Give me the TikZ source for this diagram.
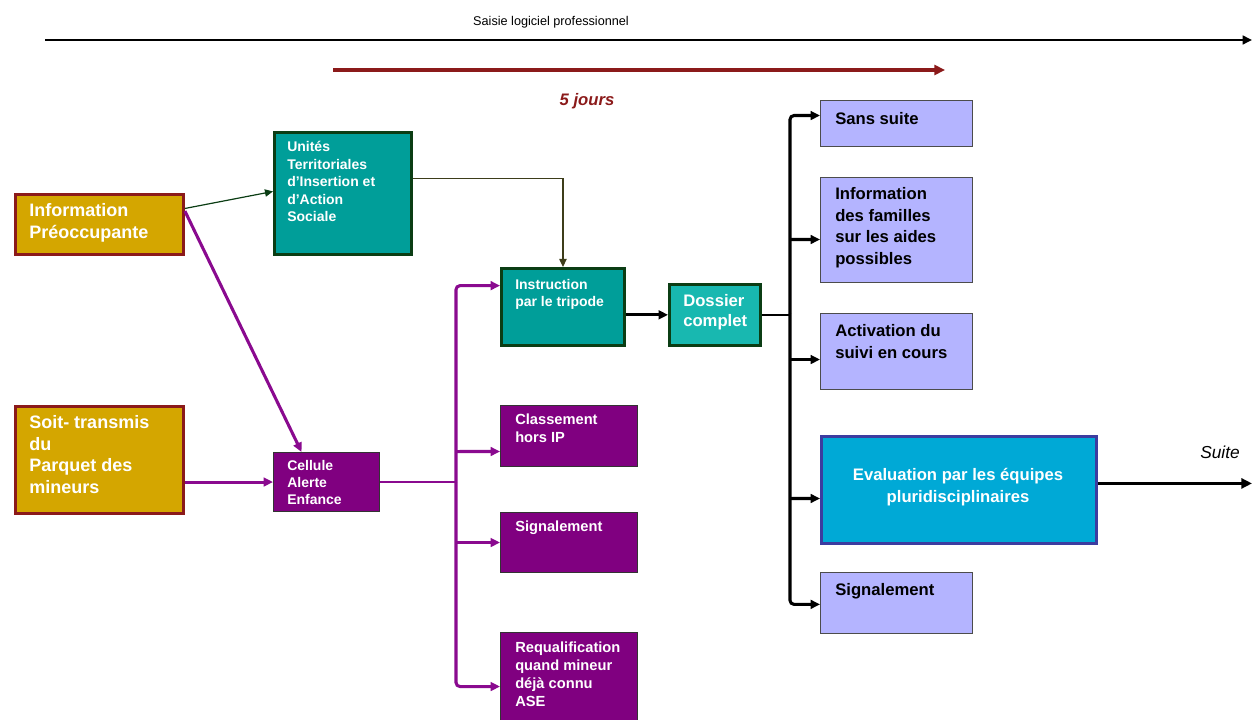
\documentclass[tikz,border=0pt]{standalone}
\usepackage{fontspec}
\setmainfont{Liberation Sans}
\usetikzlibrary{arrows.meta}
\definecolor{gold}{HTML}{D4A600}
\definecolor{dred}{HTML}{8B1A1A}
\definecolor{teal1}{HTML}{009E99}
\definecolor{teal2}{HTML}{18B8B0}
\definecolor{dgreen}{HTML}{0B3D14}
\definecolor{purp}{HTML}{800080}
\definecolor{purpl}{HTML}{8A0A8F}
\definecolor{lav}{HTML}{B4B4FF}
\definecolor{evblue}{HTML}{00A9D6}
\definecolor{evborder}{HTML}{3C3CA0}
\definecolor{olive}{HTML}{3D3D1A}
\tikzset{
  box/.style={rectangle, anchor=north west, inner sep=0pt},
  goldbox/.style={box, fill=gold, draw=dred, line width=2.2pt},
  tealbox/.style={box, fill=teal1, draw=dgreen, line width=2.2pt},
  tealbox2/.style={box, fill=teal2, draw=dgreen, line width=2pt},
  purpbox/.style={box, fill=purp, draw=black!80, line width=0.8pt},
  lavbox/.style={box, fill=lav, draw=black!70, line width=0.8pt},
  evbox/.style={box, fill=evblue, draw=evborder, line width=2.2pt},
  wtxt/.style={anchor=north west, inner sep=0pt, align=left, text=white, font=\bfseries},
  ktxt/.style={anchor=north west, inner sep=0pt, align=left, text=black, font=\bfseries},
  tip/.style={-{Triangle[length=7pt,width=6.5pt]}},
  thintip/.style={-{Triangle[length=6pt,width=5.5pt]}},
  parr/.style={tip, draw=purpl, line width=2.3pt},
  barr/.style={tip, draw=black, line width=2.3pt},
  endbranch/.style={rounded corners=3pt},
}
\begin{document}
\begin{tikzpicture}[x=0.75pt,y=-0.75pt]
\useasboundingbox (0,0) rectangle (1252,720);
% top arrows
\coordinate (ta) at (45,40);
\coordinate (tb) at (1252,40);
\draw[black, line width=2pt, -{Triangle[length=7pt,width=6.5pt]}] (ta) -- (tb);
\node[inner sep=0pt, font=\fontsize{9.5}{11}\selectfont] (saisie) at (551,22) {Saisie logiciel professionnel};
\coordinate (ra) at (333,70);
\coordinate (rb) at (945,70);
\draw[dred, line width=2.6pt, -{Triangle[length=8pt,width=7.5pt]}] (ra) -- (rb);
\node[inner sep=0pt, text=dred, font=\fontsize{12.5}{14}\selectfont\bfseries\itshape] (jours) at (587,101) {5 jours};

% left boxes
\node[goldbox, minimum width=168*0.75pt, minimum height=60*0.75pt] (ip) at (14,193) {};
\node[wtxt, font=\fontsize{13.5}{16.5}\selectfont\bfseries] (ipt) at (29,203) {Information\\Préoccupante};
\node[goldbox, minimum width=168*0.75pt, minimum height=107*0.75pt] (st) at (14,405) {};
\node[wtxt, font=\fontsize{13.5}{16.3}\selectfont\bfseries] (stt) at (29,415) {Soit- transmis\\du\\Parquet des\\mineurs};

\node[tealbox, minimum width=137*0.75pt, minimum height=122*0.75pt] (ut) at (273,131) {};
\node[wtxt, font=\fontsize{10.5}{13.2}\selectfont\bfseries] (utt) at (287,141) {Unités\\Territoriales\\d’Insertion et\\d’Action\\Sociale};

\node[purpbox, minimum width=106*0.75pt, minimum height=59*0.75pt] (ce) at (273,452) {};
\node[wtxt, font=\fontsize{10.5}{12.8}\selectfont\bfseries] (cet) at (287,460) {Cellule\\Alerte\\Enfance};

% middle column
\node[tealbox, minimum width=123*0.75pt, minimum height=77*0.75pt] (in) at (500,267) {};
\node[wtxt, font=\fontsize{10.5}{12.8}\selectfont\bfseries] (int) at (515,279) {Instruction\\par le tripode};
\node[tealbox2, minimum width=91*0.75pt, minimum height=61*0.75pt] (dc) at (668,283) {};
\node[wtxt, font=\fontsize{12.5}{15}\selectfont\bfseries] (dct) at (683,294) {Dossier\\complet};

\node[purpbox, minimum width=137*0.75pt, minimum height=61*0.75pt] (cl) at (500,405) {};
\node[wtxt, font=\fontsize{11}{13.2}\selectfont\bfseries] (clt) at (515,414) {Classement\\hors IP};
\node[purpbox, minimum width=137*0.75pt, minimum height=60*0.75pt] (sg) at (500,512) {};
\node[wtxt, font=\fontsize{11}{13.2}\selectfont\bfseries] (sgt) at (515,521) {Signalement};
\node[purpbox, minimum width=137*0.75pt, minimum height=100*0.75pt] (rq) at (500,632) {};
\node[wtxt, font=\fontsize{11}{13.4}\selectfont\bfseries] (rqt) at (515,642) {Requalification\\quand mineur\\déjà connu\\ASE};

% right column
\node[lavbox, minimum width=152*0.75pt, minimum height=46*0.75pt] (ss) at (820,100) {};
\node[ktxt, font=\fontsize{12.5}{16.3}\selectfont\bfseries] (sst) at (835,112) {Sans suite};
\node[lavbox, minimum width=152*0.75pt, minimum height=105*0.75pt] (if) at (820,177) {};
\node[ktxt, font=\fontsize{12.5}{16.3}\selectfont\bfseries] (ift) at (835,187) {Information\\des familles\\sur les aides\\possibles};
\node[lavbox, minimum width=152*0.75pt, minimum height=76*0.75pt] (ac) at (820,313) {};
\node[ktxt, font=\fontsize{12.5}{16.3}\selectfont\bfseries] (act) at (835,324) {Activation du\\suivi en cours};
\node[evbox, minimum width=275*0.75pt, minimum height=107*0.75pt] (ev) at (820,435) {};
\node[anchor=north, inner sep=0pt, align=center, text=white, font=\fontsize{12.5}{16.5}\selectfont\bfseries] (evt) at (958,468) {Evaluation par les équipes\\pluridisciplinaires};
\node[lavbox, minimum width=152*0.75pt, minimum height=61*0.75pt] (sl) at (820,572) {};
\node[ktxt, font=\fontsize{12.5}{16.3}\selectfont\bfseries] (slt) at (835,583) {Signalement};

% connectors
\draw[dgreen, line width=0.9pt, thintip] ([yshift=12pt]ip.east) -- ([yshift=1.5pt]ut.west);
\draw[parr] ([yshift=10pt]ip.east) -- ([xshift=-18.75pt]ce.north);
\draw[parr] (st.east |- ce.west) -- (ce.west);
\draw[olive, line width=0.9pt, thintip] ([yshift=11.25pt]ut.east) -| (in.north);

\coordinate (cb) at (456,482);
\draw[purpl, line width=1.3pt] (ce.east) -- (cb);
\draw[parr, endbranch] (cb) |- ([yshift=16pt]in.west);
\draw[parr] (cb |- cl.west) ++(0,15.5) -- ([yshift=-11.6pt]cl.west);
\draw[parr] (cb |- sg.west) -- (sg.west);
\draw[parr, endbranch] (cb) |- ([yshift=-3pt]rq.west);

\draw[barr] (in.east |- dc.west) -- (dc.west);
\coordinate (dr) at (790,313);
\draw[black, line width=1pt] (dc.east) -- (dc.east -| dr);
\draw[barr, endbranch] (dr) |- ([yshift=6pt]ss.west);
\draw[barr] (dr |- if.west) ++(0,9.5) -- ([yshift=-7.1pt]if.west);
\draw[barr] (dr |- ac.west) ++(0,8) -- ([yshift=-6pt]ac.west);
\draw[barr] (dr |- ev.west) ++(0,8.5) -- ([yshift=-6.4pt]ev.west);
\draw[barr, endbranch] (dr) |- ([yshift=-1pt]sl.west);

\coordinate (sf) at (1252,482);
\draw[black, line width=2.6pt, -{Triangle[length=8pt,width=7.5pt]}] ([yshift=4.9pt]ev.east) -- ([yshift=4.9pt]ev.east -| sf);
\node[inner sep=0pt, font=\fontsize{13}{15}\selectfont\itshape] (suite) at (1220,452) {Suite};
\end{tikzpicture}
\end{document}
